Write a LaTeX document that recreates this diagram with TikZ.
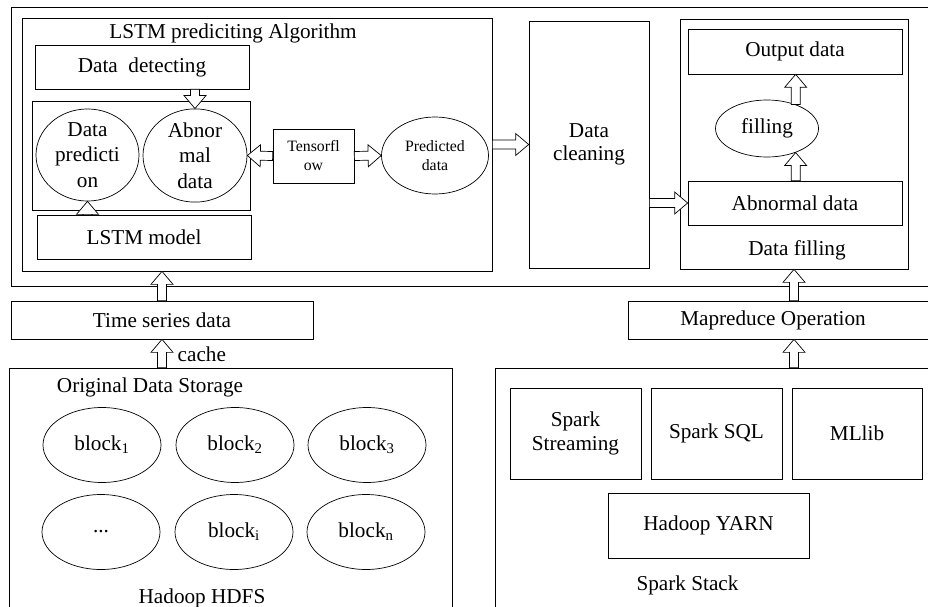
\documentclass[tikz,border=0pt]{standalone}
\usepackage{fontspec}
\setmainfont{Liberation Serif}
\usetikzlibrary{calc,shapes.geometric}
\newcommand\blockarr[2]{%
  \coordinate (bab) at ($(#2)!13pt!(#1)$);
  \draw[fill=white] ($(#1)!4.5pt!90:(#2)$) -- ($(bab)!4.5pt!90:(#2)$) -- ($(bab)!11pt!90:(#2)$) -- (#2)
     -- ($(bab)!11pt!-90:(#2)$) -- ($(bab)!4.5pt!-90:(#2)$) -- ($(#1)!4.5pt!-90:(#2)$) -- cycle;}
\begin{document}
\begin{tikzpicture}[x=1pt,y=-1pt,line width=0.7pt,
  box/.style={draw, rectangle, inner sep=0pt, align=center},
  ell/.style={draw, ellipse, inner sep=0pt, align=center},
  every node/.append style={font=\fontsize{21.2}{25.5}\selectfont},
  small/.style={font=\fontsize{15.8}{19}\selectfont}]
\useasboundingbox (0,0) rectangle (928,607);
\clip (0,0) rectangle (928,607);
\fill[white] (0,0) rectangle (928,607);
% top frame
\node[box, minimum width=929, minimum height=279] (outer) at (475.5,146.5) {};
\node[box, minimum width=470, minimum height=253] (lstmbox) at (257,144.5) {};
\node (title) at (233,33) {LSTM prediciting Algorithm};
\node[box, minimum width=214, minimum height=44] (detect) at (142,67) {Data\ \ detecting};
\node[box, minimum width=218, minimum height=109] (grp) at (141,155.5) {};
\node[ell, minimum width=103, minimum height=82] (dpred) at (87.5,155) {Data\\predicti\\on};
\node[ell, minimum width=104, minimum height=83] (abn) at (195,155.5) {Abnor\\mal\\data};
\node[box, minimum width=214, minimum height=44] (lstmm) at (144,237) {LSTM model};
\node[box, small, minimum width=81, minimum height=54] (tf) at (313.5,156) {Tensorfl\\ow};
\node[ell, small, minimum width=107, minimum height=77] (pred) at (435,155.5) {Predicted\\data};
\node[box, minimum width=120, minimum height=247, font=\fontsize{21.2}{23}\selectfont] (clean) at (589,144.5) {Data\\cleaning};
\node[box, minimum width=228, minimum height=250] (fillbox) at (794,144) {};
\node[box, minimum width=214, minimum height=45] (out) at (795,51.5) {Output data};
\node[ell, minimum width=103, minimum height=57] (fillell) at (767,128.5) {filling};
\node[box, minimum width=214, minimum height=44] (abd) at (795,203) {Abnormal data};
\node (fillt) at (797,250) {Data filling};
% middle
\node[box, minimum width=302, minimum height=38] (ts) at (162,320) {Time series data};
\node[box, minimum width=312, minimum height=38] (mr) at (784,320) {};
\node (mrt) at (773,320) {Mapreduce Operation};
% bottom left
\node[box, minimum width=443, minimum height=272] (hdfs) at (230.5,504) {};
\node (hdfst) at (150,387) {Original Data Storage};
\node (hdfsb) at (202,598) {Hadoop HDFS};
\node[ell, minimum width=118, minimum height=75] (b1) at (102,445) {block\textsubscript{1}};
\node[ell, minimum width=118, minimum height=75] (b2) at (235,445) {block\textsubscript{2}};
\node[ell, minimum width=118, minimum height=75] (b3) at (367,445) {block\textsubscript{3}};
\node[ell, minimum width=118, minimum height=75] (b4) at (101,532) {...};
\node[ell, minimum width=118, minimum height=75] (b5) at (234,532) {block\textsubscript{i}};
\node[ell, minimum width=118, minimum height=75] (b6) at (366,532) {block\textsubscript{n}};
\node (cache) [anchor=west] at (174,354) {cache};
% bottom right
\node[box, minimum width=445, minimum height=272] (stack) at (717.5,504) {};
\node[box, minimum width=131, minimum height=91, font=\fontsize{21.2}{24}\selectfont] (ss) at (575.5,433.5) {Spark\\Streaming};
\node[box, minimum width=131, minimum height=91] (sql) at (716.5,433.5) {Spark SQL};
\node[box, minimum width=130, minimum height=91] (ml) at (857,433.5) {MLlib};
\node[box, minimum width=201, minimum height=65] (yarn) at (708.5,525.5) {Hadoop YARN};
\node (stackt) at (687.5,585) {Spark Stack};
% arrows
\coordinate (a1s) at (detect.south -| abn.north);
\blockarr{a1s}{abn.north}
\coordinate (a2s) at (lstmm.north -| dpred.south);
\blockarr{a2s}{dpred.south}
\blockarr{tf.west}{abn.east}
\blockarr{tf.east}{pred.west}
\coordinate (a5e) at (lstmbox.east -| clean.west);
\blockarr{lstmbox.east}{a5e}
\coordinate (a6s) at (clean.east |- abd.west);
\blockarr{a6s}{abd.west}
\coordinate (a7s) at (abd.north -| fillell.-40.5);
\blockarr{a7s}{fillell.-40.5}
\coordinate (a8e) at (out.south -| fillell.40.5);
\blockarr{fillell.40.5}{a8e}
\coordinate (a9s) at (mr.north -| fillbox.south);
\blockarr{a9s}{fillbox.south}
\coordinate (a10e) at (lstmbox.south -| ts.north);
\blockarr{ts.north}{a10e}
\coordinate (a11s) at (ts.south |- hdfs.north);
\blockarr{a11s}{ts.south}
\coordinate (a12s) at (fillbox.south |- stack.north);
\coordinate (a12e) at (fillbox.south |- mr.south);
\blockarr{a12s}{a12e}
\end{tikzpicture}
\end{document}
